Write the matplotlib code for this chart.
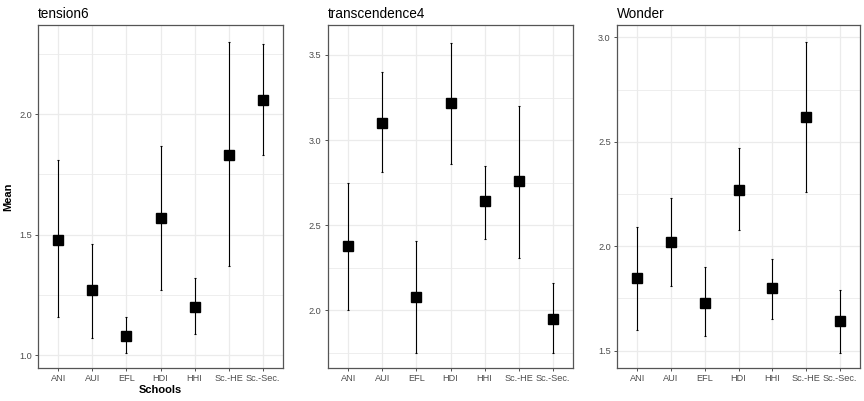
import matplotlib
matplotlib.use("Agg")
import matplotlib.pyplot as plt
from matplotlib.ticker import MultipleLocator

plt.rcParams["font.family"] = ["Liberation Sans", "DejaVu Sans"]

schools = ["ANI", "AUI", "EFL", "HDI", "HHI", "Sc.-HE", "Sc.-Sec."]

tension6_mean = [1.48, 1.27, 1.08, 1.57, 1.20, 1.83, 2.06]
tension6_low = [1.16, 1.07, 1.01, 1.27, 1.09, 1.37, 1.83]
tension6_high = [1.81, 1.46, 1.16, 1.87, 1.32, 2.30, 2.29]

transcendence4_mean = [2.38, 3.10, 2.08, 3.22, 2.64, 2.76, 1.95]
transcendence4_low = [2.00, 2.81, 1.75, 2.86, 2.42, 2.31, 1.75]
transcendence4_high = [2.75, 3.40, 2.41, 3.57, 2.85, 3.20, 2.16]

wonder_mean = [1.85, 2.02, 1.73, 2.27, 1.80, 2.62, 1.64]
wonder_low = [1.60, 1.81, 1.57, 2.08, 1.65, 2.26, 1.49]
wonder_high = [2.09, 2.23, 1.90, 2.47, 1.94, 2.98, 1.79]

panels = [
    ("tension6", tension6_mean, tension6_low, tension6_high, (0.947, 2.37), 0.5),
    ("transcendence4", transcendence4_mean, transcendence4_low, transcendence4_high, (1.661, 3.676), 0.5),
    ("Wonder", wonder_mean, wonder_low, wonder_high, (1.417, 3.059), 0.5),
]

W, H = 864, 401
fig = plt.figure(figsize=(W / 100, H / 100), dpi=100)

lefts = [38, 327.7, 617]
widths = [245, 245.6, 243]
top, bottom = 25, 368

for i, (title, mean, low, high, ylim, step) in enumerate(panels):
    ax = fig.add_axes([lefts[i] / W, 1 - bottom / H, widths[i] / W, (bottom - top) / H])
    xs = list(range(len(schools)))
    yerr = [[m - l for m, l in zip(mean, low)], [h - m for m, h in zip(mean, high)]]
    ax.errorbar(xs, mean, yerr=yerr, fmt="none", ecolor="black", elinewidth=0.8,
                capsize=1, capthick=0.8, zorder=3)
    ax.plot(xs, mean, linestyle="none", marker="s", markersize=7.5, color="black", zorder=4)
    ax.set_xlim(-0.6, len(schools) - 0.4)
    ax.set_ylim(*ylim)
    ax.set_xticks(xs)
    ax.set_xticklabels(schools)
    ax.yaxis.set_major_locator(MultipleLocator(step))
    ax.yaxis.set_minor_locator(MultipleLocator(step / 2))
    ax.grid(True, which="major", color="#EBEBEB", linewidth=0.9, zorder=0)
    ax.grid(True, which="minor", axis="y", color="#EBEBEB", linewidth=0.6, zorder=0)
    ax.set_axisbelow(True)
    ax.tick_params(axis="both", which="major", length=2.5, width=0.6, color="#333333",
                   labelsize=6.6, labelcolor="#4D4D4D", pad=2)
    ax.tick_params(axis="both", which="minor", length=0)
    for s in ax.spines.values():
        s.set_color("#555555")
        s.set_linewidth(0.9)
    ax.set_title(title, loc="left", fontsize=9.8, color="black", pad=5)
    if i == 0:
        ax.set_ylabel("Mean", fontsize=8, fontweight="bold", labelpad=4)
        ax.set_xlabel("Schools", fontsize=8, fontweight="bold", labelpad=1)

fig.savefig("out.png", dpi=100, facecolor="white")
